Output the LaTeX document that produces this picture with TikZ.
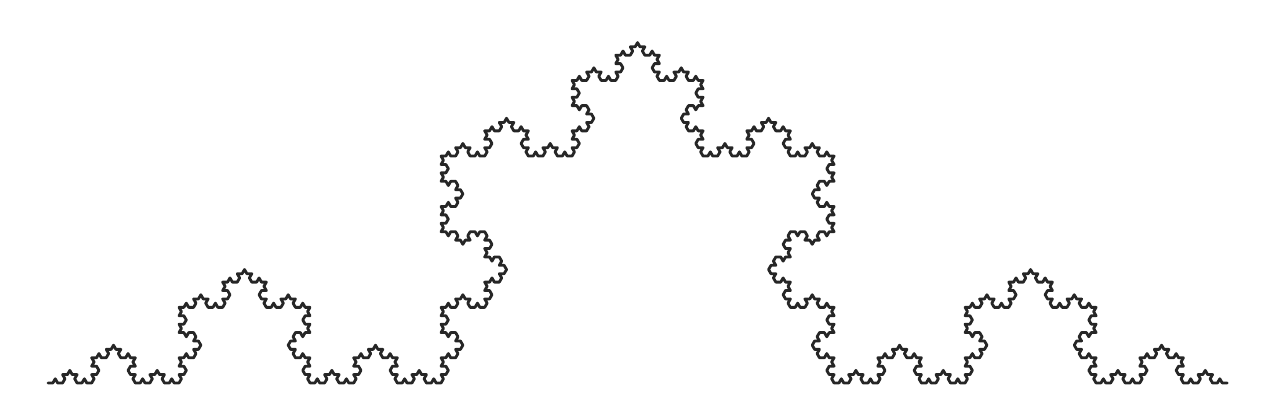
\documentclass[tikz,border=0pt]{standalone}
\usetikzlibrary{lindenmayersystems}

\pgfdeclarelindenmayersystem{Koch curve}{
  \rule{F -> F+F--F+F}
}

\begin{document}
\begin{tikzpicture}
		\useasboundingbox (0,0) rectangle (25.48,8.06);
		% Koch curve, order 5
		\begin{scope}[shift={(0.96,0.40)}]
		\draw[line width=1.6pt,black!85,line join=round,line cap=round]
			[l-system={Koch curve, axiom=F, order=5, step=0.09704cm, angle=60}]
			(0,0) lindenmayer system;
		\end{scope}
	\end{tikzpicture}
\end{document}
